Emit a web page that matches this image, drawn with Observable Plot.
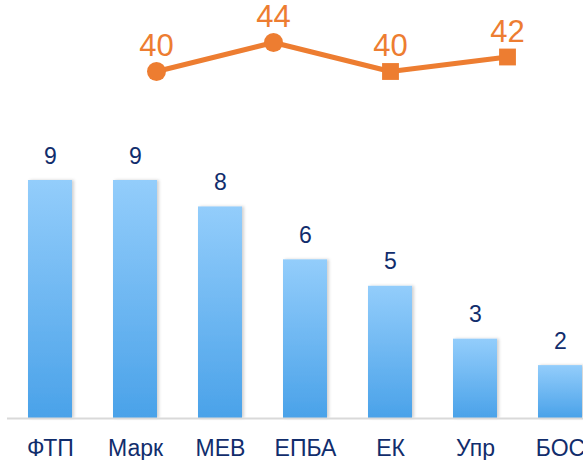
<!DOCTYPE html>
<html>
<head>
<meta charset="utf-8">
<script src="https://cdn.jsdelivr.net/npm/d3@7"></script>
<script src="https://cdn.jsdelivr.net/npm/@observablehq/plot@0.6"></script>
<style>
  html, body { margin: 0; padding: 0; background: #fff; }
  #chart { width: 583px; height: 460px; position: relative; font-family: "Liberation Sans", Arial, sans-serif; }
  #chart svg { display: block; }
</style>
</head>
<body>
<div id="chart"></div>
<script>
// Bar series
const categories = ["ФТП", "Марк", "МЕВ", "ЕПБА", "ЕК", "Упр", "БОС"];
const barValues = [9, 9, 8, 6, 5, 3, 2];

// Line series (top)
const linePoints = ["p1", "p2", "p3", "p4"];
const lineValues = [40, 44, 40, 42];
const lineGroups = ["A", "A", "B", "B"];

const navy = "#112D6C";
const orange = "#ED7D31";
const font = "'Liberation Sans', Arial, sans-serif";

const bars = categories.map((c, i) => ({category: c, value: barValues[i]}));
const line = linePoints.map((p, i) => ({point: p, value: lineValues[i], group: lineGroups[i]}));

// Top line chart
const linePlot = Plot.plot({
  width: 583,
  height: 100,
  marginLeft: 155,
  marginRight: 76,
  marginTop: 42,
  marginBottom: 29,
  style: {fontFamily: font, background: "transparent", overflow: "visible"},
  x: {type: "point", domain: linePoints, padding: 0, axis: null},
  y: {domain: [40, 44], axis: null},
  symbol: {domain: ["A", "B"], range: ["circle", "square"]},
  marks: [
    Plot.line(line, {x: "point", y: "value", stroke: orange, strokeWidth: 5}),
    Plot.dot(line, {x: "point", y: "value", symbol: "group", fill: orange, r: 9.5}),
    Plot.text(line, {x: "point", y: "value", text: d => String(d.value), fill: orange,
      fontSize: 31, lineAnchor: "middle", dy: -25})
  ]
});

// Bar chart
const barsPlot = Plot.plot({
  width: 583,
  height: 360,
  marginLeft: 7,
  marginRight: 0,
  marginTop: 80,
  marginBottom: 42,
  style: {fontFamily: font, background: "transparent", overflow: "visible"},
  x: {domain: categories, paddingInner: 0.483, paddingOuter: 0.123, align: 0.955, label: null},
  y: {domain: [0, 9], axis: null},
  marks: [
    () => {
      const svg = d3.create("svg:defs");
      const g = svg.append("linearGradient").attr("id", "barGrad")
        .attr("x1", 0).attr("y1", 0).attr("x2", 0).attr("y2", 1);
      g.append("stop").attr("offset", "0%").attr("stop-color", "#93CDFB");
      g.append("stop").attr("offset", "100%").attr("stop-color", "#4AA2E9");
      const f = svg.append("filter").attr("id", "barShadow").attr("x", "-20%").attr("y", "-5%").attr("width", "140%").attr("height", "110%");
      f.append("feDropShadow").attr("dx", 2).attr("dy", 0).attr("stdDeviation", 1.5).attr("flood-color", "#000").attr("flood-opacity", 0.18);
      return svg.node();
    },
    Plot.barY(bars, {x: "category", y: "value", fill: "url(#barGrad)"}),
    Plot.ruleY([0], {stroke: "#D9D9D9", strokeWidth: 2}),
    Plot.text(bars, {x: "category", y: "value", text: d => String(d.value), fill: navy,
      fontSize: 23, lineAnchor: "bottom", dy: -17}),
    Plot.axisX({tickSize: 0, tickPadding: 21, fontSize: 23, fill: navy, label: null})
  ]
});
d3.select(barsPlot).selectAll("g[aria-label='bar'] rect").attr("filter", "url(#barShadow)");

const chart = document.getElementById("chart");
chart.appendChild(linePlot);
chart.appendChild(barsPlot);
</script>
</body>
</html>
